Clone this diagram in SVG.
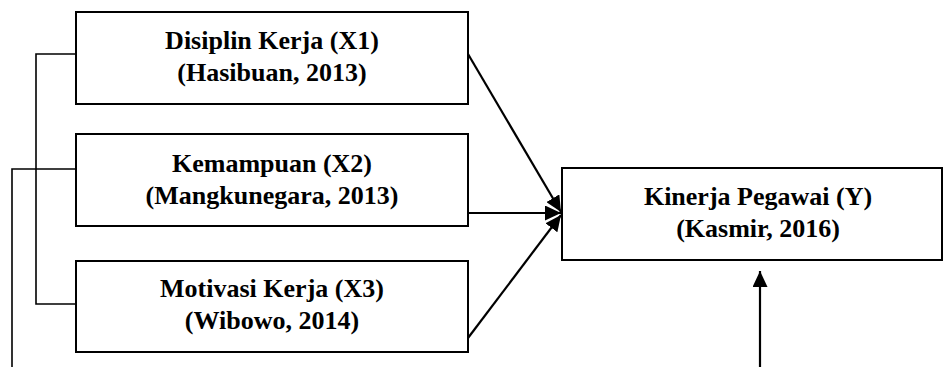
<svg xmlns="http://www.w3.org/2000/svg" width="943" height="367" viewBox="0 0 943 367">
<defs>
<style>
.box{fill:#fff;stroke:#000;stroke-width:2}
.t{font-family:"Liberation Serif","Times New Roman",serif;font-weight:bold;font-size:26px;fill:#000;text-anchor:middle}
.ln{fill:none;stroke:#000;stroke-width:1.6}
.ar{fill:none;stroke:#000;stroke-width:2.2}
</style>
<marker id="ah" viewBox="0 0 16 15" refX="16" refY="7.5" markerWidth="16" markerHeight="15" markerUnits="userSpaceOnUse" orient="auto">
<path d="M0,0 L16,7.5 L0,15 Z" fill="#000"/>
</marker>
</defs>
<rect width="943" height="367" fill="#fff"/>
<g id="connectors">
<path class="ln" d="M76,54 H36 V304 H76"/>
<path class="ln" d="M76,169 H12 V367"/>
<line class="ar" x1="468" y1="54" x2="561" y2="212" marker-end="url(#ah)"/>
<line class="ar" x1="468" y1="213" x2="561" y2="213" marker-end="url(#ah)"/>
<line class="ar" x1="468" y1="338" x2="561" y2="215" marker-end="url(#ah)"/>
<line class="ar" x1="760" y1="367" x2="760" y2="271" marker-end="url(#ah)"/>
</g>
<g id="x1">
<rect class="box" x="76" y="12" width="392" height="92"/>
<text class="t" x="272" y="49">Disiplin Kerja (X1)</text>
<text class="t" x="272" y="81">(Hasibuan, 2013)</text>
</g>
<g id="x2">
<rect class="box" x="76" y="134" width="392" height="92"/>
<text class="t" x="272" y="172">Kemampuan (X2)</text>
<text class="t" x="272" y="204">(Mangkunegara, 2013)</text>
</g>
<g id="x3">
<rect class="box" x="76" y="261" width="392" height="91"/>
<text class="t" x="272" y="297">Motivasi Kerja (X3)</text>
<text class="t" x="272" y="329">(Wibowo, 2014)</text>
</g>
<g id="y">
<rect class="box" x="562" y="168" width="380" height="92"/>
<text class="t" x="758" y="205">Kinerja Pegawai (Y)</text>
<text class="t" x="758" y="237">(Kasmir, 2016)</text>
</g>
</svg>
